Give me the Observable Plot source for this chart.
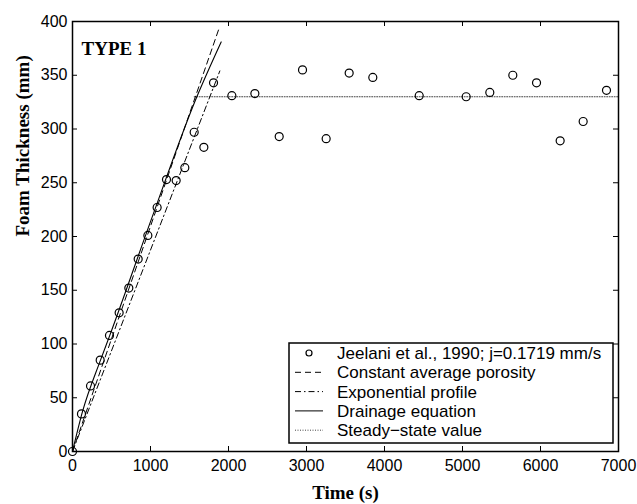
<!DOCTYPE html>
<html>
<head>
<meta charset="utf-8">
<script src="https://cdn.jsdelivr.net/npm/d3@7"></script>
<script src="https://cdn.jsdelivr.net/npm/@observablehq/plot@0.6"></script>
<style>
  html, body { margin: 0; padding: 0; background: #fff; }
</style>
</head>
<body>
<div id="chart"></div>
<script>
// Experimental data (Jeelani et al., 1990)
const expTime      = [0, 115, 231, 355, 474, 598, 722, 842, 966, 1085, 1205, 1329, 1440, 1560, 1684, 1808, 2043, 2338, 2650, 2949, 3252, 3547, 3850, 4445, 5047, 5350, 5645, 5949, 6252, 6547, 6846];
const expThickness = [0, 35, 61, 85, 108, 129, 152, 179, 201, 227, 253, 252, 264, 297, 283, 343, 331, 333, 293, 355, 291, 352, 348, 331, 330, 334, 350, 343, 289, 307, 336];

// Model curves
const constTime  = [0, 1876];
const constThick = [0, 393];
const expoTime   = [0, 1889];
const expoThick  = [0, 354];
const drainTime  = [0, 128, 359, 478, 1021, 1577, 1906];
const drainThick = [0, 37, 85, 108, 218, 327, 381];
const steadyTime  = [1560, 7000];
const steadyThick = [330, 330];

const xTicks = [0, 1000, 2000, 3000, 4000, 5000, 6000, 7000];
const yTicks = [0, 50, 100, 150, 200, 250, 300, 350, 400];

const legendLabels = [
  "Jeelani et al., 1990; j=0.1719 mm/s",
  "Constant average porosity",
  "Exponential profile",
  "Drainage equation",
  "Steady\u2212state value"
];

const zip = (xs, ys) => xs.map((x, i) => ({x, y: ys[i]}));
const expData = zip(expTime, expThickness);
const constData = zip(constTime, constThick);
const expoData = zip(expoTime, expoThick);
const drainData = zip(drainTime, drainThick);
const steadyData = zip(steadyTime, steadyThick);

const W = 637, H = 504, mL = 72, mR = 19, mT = 21, mB = 53;
const xDom = [0, 7000], yDom = [0, 400];
const xPerPx = (xDom[1] - xDom[0]) / (W - mL - mR);
const yPerPx = (yDom[1] - yDom[0]) / (H - mT - mB);
const tk = 5;

const dashStyles = {
  dashed: "6,4",
  dashdot: "6,3,1.5,3",
  dotted: "1,1.5"
};
const serif = "'Liberation Serif', 'Times New Roman', serif";
const sans = "'Liberation Sans', Arial, sans-serif";

const chart = Plot.plot({
  width: W, height: H,
  marginLeft: mL, marginRight: mR, marginTop: mT, marginBottom: mB,
  x: {domain: xDom},
  y: {domain: yDom},
  style: {fontFamily: sans, fontSize: "16px", color: "black", background: "white"},
  marks: [
    Plot.axisX({ticks: xTicks, tickSize: 0, tickPadding: 8, tickFormat: d => String(d), label: null, fontSize: 16}),
    Plot.axisY({ticks: yTicks, tickSize: 0, tickPadding: 5, tickFormat: d => String(d), label: null, fontSize: 16}),
    // inward ticks on all sides
    Plot.ruleX(xTicks, {x: d => d, y1: yDom[0], y2: yDom[0] + tk * yPerPx, stroke: "black", strokeWidth: 1}),
    Plot.ruleX(xTicks, {x: d => d, y1: yDom[1] - tk * yPerPx, y2: yDom[1], stroke: "black", strokeWidth: 1}),
    Plot.ruleY(yTicks, {y: d => d, x1: xDom[0], x2: xDom[0] + tk * xPerPx, stroke: "black", strokeWidth: 1}),
    Plot.ruleY(yTicks, {y: d => d, x1: xDom[1] - tk * xPerPx, x2: xDom[1], stroke: "black", strokeWidth: 1}),
    Plot.line(steadyData, {x: "x", y: "y", stroke: "#444", strokeWidth: 1, strokeDasharray: dashStyles.dotted}),
    Plot.line(constData, {x: "x", y: "y", stroke: "black", strokeWidth: 1, strokeDasharray: dashStyles.dashed}),
    Plot.line(expoData, {x: "x", y: "y", stroke: "black", strokeWidth: 1, strokeDasharray: dashStyles.dashdot}),
    Plot.line(drainData, {x: "x", y: "y", stroke: "black", strokeWidth: 1.1, curve: "monotone-x"}),
    Plot.dot(expData, {x: "x", y: "y", r: 4, stroke: "black", strokeWidth: 1.2, fill: "none"}),
    Plot.frame({stroke: "black", strokeWidth: 1.5}),
    Plot.text(["TYPE 1"], {frameAnchor: "top-left", dx: 9, dy: 27, textAnchor: "start", lineAnchor: "middle", fontWeight: "bold", fontFamily: serif, fontSize: 19}),
    Plot.text(["Time (s)"], {frameAnchor: "bottom", dy: 41, lineAnchor: "middle", fontWeight: "bold", fontFamily: serif, fontSize: 19}),
    Plot.text(["Foam Thickness (mm)"], {frameAnchor: "left", dx: -50, rotate: -90, fontWeight: "bold", fontFamily: serif, fontSize: 19})
  ]
});

// Legend (inside the plot area, bottom right)
const svg = d3.select(chart);
const lg = svg.append("g").attr("font-family", sans).attr("font-size", 17).attr("text-anchor", "start");
const bx = 289, by = 343, bw = 324, bh = 100;
lg.append("rect").attr("x", bx).attr("y", by).attr("width", bw).attr("height", bh)
  .attr("fill", "white").attr("stroke", "black").attr("stroke-width", 1.5);
const rowY = i => by + 10 + i * 19.3;
const sx1 = 295, sx2 = 323, tx = 337;
legendLabels.forEach((lab, i) => {
  const y = rowY(i);
  if (i === 0) {
    lg.append("circle").attr("cx", (sx1 + sx2) / 2).attr("cy", y).attr("r", 3).attr("fill", "none").attr("stroke", "black").attr("stroke-width", 1.2);
  } else {
    const dash = [null, dashStyles.dashed, dashStyles.dashdot, null, dashStyles.dotted][i];
    lg.append("line").attr("x1", sx1).attr("x2", sx2).attr("y1", y).attr("y2", y)
      .attr("stroke", i === 4 ? "#444" : "black").attr("stroke-width", 1)
      .attr("stroke-dasharray", dash);
  }
  lg.append("text").attr("x", tx).attr("y", y).attr("dy", "0.35em").attr("text-anchor", "start").text(lab);
});

document.getElementById("chart").appendChild(chart);
</script>
</body>
</html>
